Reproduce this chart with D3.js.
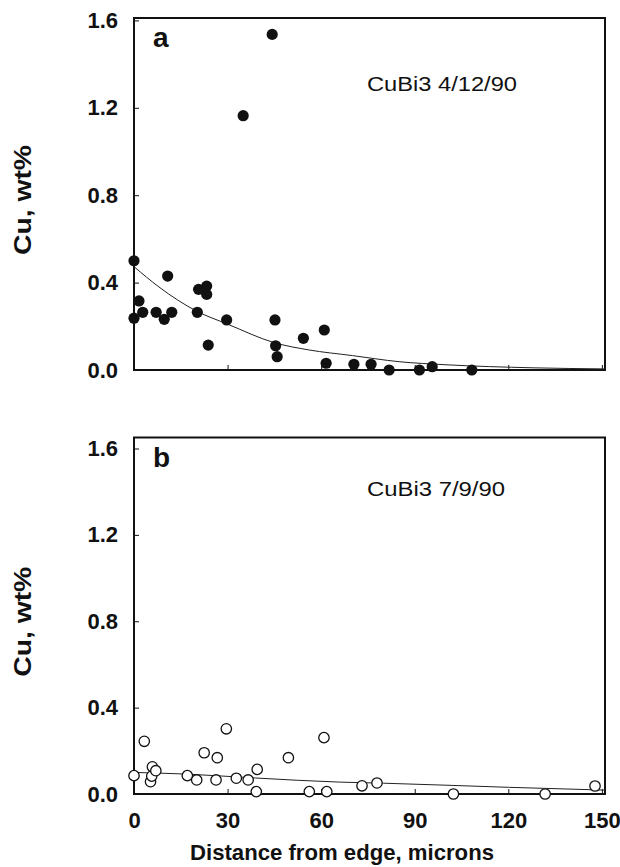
<!DOCTYPE html>
<html lang="en">
<head>
<meta http-equiv="content-type" content="text/html; charset=UTF-8">
<script src="https://d3js.org/d3.v7.min.js"></script>
<style>
  body { margin: 0; background: #fff; }
  svg { display: block; }
  text { font-family: "Liberation Sans", Arial, sans-serif; fill: #111; }
</style>
</head>
<body>
<div id="plot"></div>
<script>
// tick values
const xTicks = [0, 30, 60, 90, 120, 150];
const yTicks = [0, 0.4, 0.8, 1.2, 1.6];

// panel a - CuBi3 4/12/90 (filled dots)
const distA = [0, 0, 1.6, 2.8, 7.1, 9.7, 10.8, 12.1, 20.3, 20.7, 23.3, 23.3, 23.8, 29.7,
               35.0, 44.3, 45.2, 45.4, 45.9, 54.3, 61.0, 61.6, 70.5, 76.0, 81.8, 91.5, 95.6, 108.3];
const cuA   = [0.50, 0.237, 0.316, 0.264, 0.264, 0.232, 0.43, 0.264, 0.264, 0.369, 0.384, 0.346, 0.114, 0.229,
               1.164, 1.536, 0.229, 0.111, 0.061, 0.145, 0.183, 0.031, 0.026, 0.026, 0.0, 0.0, 0.015, 0.0];
// fitted curve
const fitDistA = [0, 8, 20, 30, 45, 56, 70, 85, 100, 128, 151];
const fitCuA   = [0.473, 0.38, 0.27, 0.21, 0.125, 0.092, 0.066, 0.038, 0.024, 0.01, 0.005];

// panel b - CuBi3 7/9/90 (open circles)
const distB = [0, 3.3, 5.3, 5.7, 5.9, 7.0, 17.1, 20.1, 22.5, 26.3, 26.7, 29.6, 32.8, 36.6, 39.2,
               39.5, 49.5, 56.2, 60.9, 61.8, 73.1, 77.9, 102.4, 131.8, 147.8];
const cuB   = [0.085, 0.244, 0.057, 0.083, 0.126, 0.108, 0.085, 0.065, 0.191, 0.065, 0.168, 0.302, 0.073, 0.065, 0.011,
               0.114, 0.168, 0.011, 0.261, 0.011, 0.038, 0.051, 0.0, 0.0, 0.037];
const fitDistB = [0, 17, 39, 66, 80, 120, 151];
const fitCuB   = [0.10, 0.092, 0.074, 0.055, 0.05, 0.031, 0.018];

const width = 620, height = 867;
const svg = d3.select("#plot").append("svg")
    .attr("width", width)
    .attr("height", height);

svg.append("rect").attr("width", width).attr("height", height).attr("fill", "#fff");

const x = d3.scaleLinear().domain([0, 151]).range([134, 605]);

const panels = [
  {letter: "a", label: "CuBi3 4/12/90", dist: distA, cu: cuA, fitDist: fitDistA, fitCu: fitCuA,
   top: 18, bottom: 370, yMax: 1.611, filled: true, xLabels: false},
  {letter: "b", label: "CuBi3 7/9/90", dist: distB, cu: cuB, fitDist: fitDistB, fitCu: fitCuB,
   top: 437.5, bottom: 794, yMax: 1.651, filled: false, xLabels: true}
];

panels.forEach(p => {
  const y = d3.scaleLinear().domain([0, p.yMax]).range([p.bottom, p.top]);
  const g = svg.append("g");

  // y axis, ticks inward
  g.append("g")
      .attr("transform", `translate(${x(0)},0)`)
      .call(d3.axisLeft(y).tickValues(yTicks).tickFormat(d3.format(".1f")).tickSize(-5).tickPadding(16))
      .call(a => a.select(".domain").remove())
      .call(a => a.selectAll("line").attr("stroke", "#111").attr("stroke-width", 1))
      .call(a => a.selectAll("text").attr("font-size", 22).attr("font-weight", "bold")
                  .attr("font-family", "Liberation Sans, Arial, sans-serif").attr("fill", "#111"));

  // x axis, ticks inward
  g.append("g")
      .attr("transform", `translate(0,${p.bottom})`)
      .call(d3.axisBottom(x).tickValues(xTicks).tickSize(-5).tickPadding(18)
              .tickFormat(p.xLabels ? d3.format("d") : () => ""))
      .call(a => a.select(".domain").remove())
      .call(a => a.selectAll("line").attr("stroke", "#111").attr("stroke-width", 1))
      .call(a => a.selectAll("text").attr("font-size", 22).attr("font-weight", "bold")
                  .attr("font-family", "Liberation Sans, Arial, sans-serif").attr("fill", "#111"));

  // frame
  g.append("rect")
      .attr("x", x(0))
      .attr("y", p.top)
      .attr("width", x.range()[1] - x(0))
      .attr("height", p.bottom - p.top)
      .attr("fill", "none")
      .attr("stroke", "#111")
      .attr("stroke-width", 2);

  // fitted line
  const line = d3.line()
      .x((d, i) => x(p.fitDist[i]))
      .y((d, i) => y(p.fitCu[i]))
      .curve(d3.curveMonotoneX);
  g.append("path")
      .datum(p.fitCu)
      .attr("d", line)
      .attr("fill", "none")
      .attr("stroke", "#222")
      .attr("stroke-width", 1);

  // points
  g.append("g").selectAll("circle")
    .data(p.cu)
    .join("circle")
      .attr("cx", (d, i) => x(p.dist[i]))
      .attr("cy", d => y(d))
      .attr("r", p.filled ? 5.6 : 5.2)
      .attr("fill", p.filled ? "#111" : "#fff")
      .attr("stroke", "#111")
      .attr("stroke-width", p.filled ? 0 : 1.3);

  // panel letter
  g.append("text")
      .attr("x", 153)
      .attr("y", p.top + 29)
      .attr("font-size", 28)
      .attr("font-weight", "bold")
      .text(p.letter);

  // sample label
  g.append("text")
      .attr("x", 367)
      .attr("y", p.top + 73 - (p.filled ? 0 : 15))
      .attr("font-size", 20)
      .attr("textLength", p.filled ? 150 : 138)
      .attr("lengthAdjust", "spacingAndGlyphs")
      .text(p.label);

  // y title
  g.append("text")
      .attr("transform", `translate(31,${(p.top + p.bottom) / 2 + 6}) rotate(-90)`)
      .attr("text-anchor", "middle")
      .attr("font-size", 23)
      .attr("font-weight", "bold")
      .attr("textLength", 110)
      .attr("lengthAdjust", "spacingAndGlyphs")
      .text("Cu, wt%");
});

svg.append("text")
    .attr("x", 342)
    .attr("y", 860)
    .attr("text-anchor", "middle")
    .attr("font-size", 22)
    .attr("font-weight", "bold")
    .attr("textLength", 304)
    .attr("lengthAdjust", "spacingAndGlyphs")
    .text("Distance from edge, microns");
</script>
</body>
</html>
